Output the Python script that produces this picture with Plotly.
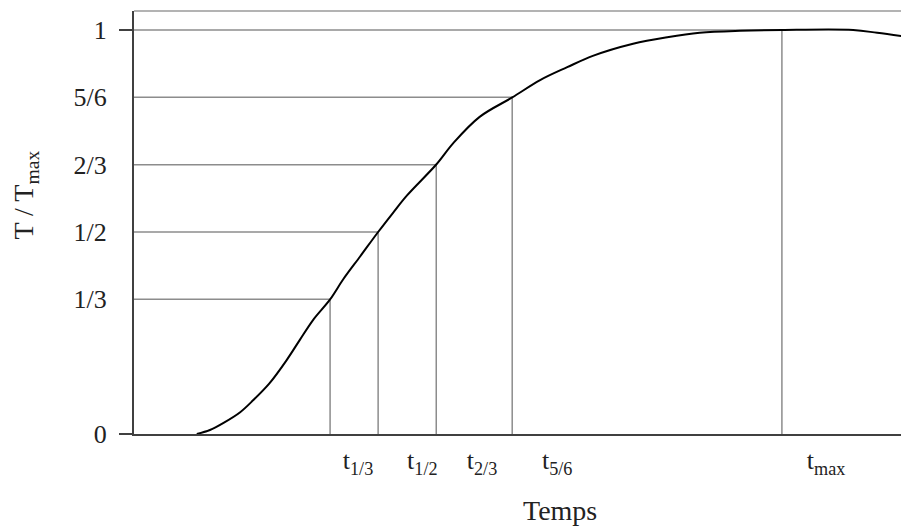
import plotly.graph_objects as go

# courbe T/Tmax en fonction du temps (unites arbitraires 0-100)
temps = [8.1, 9.8, 11.5, 13.7, 15.4, 17.5, 19.7, 21.4, 23.1, 25.3, 27.0, 29.2,
         31.5, 33.4, 35.2, 39.0, 41.2, 44.6, 48.8, 52.4, 55.9, 59.2, 64.4,
         68.8, 73.0, 78.2, 83.6, 92.8, 95.9, 99.7]
t_rel = [0.0, 0.01, 0.027, 0.054, 0.084, 0.126, 0.183, 0.233, 0.282, 0.333,
         0.383, 0.44, 0.5, 0.547, 0.59, 0.667, 0.72, 0.785, 0.833, 0.876,
         0.908, 0.936, 0.966, 0.982, 0.993, 0.998, 1.0, 1.0, 0.993, 0.983]

# niveaux et temps correspondants
niveaux = [1 / 3, 1 / 2, 2 / 3, 5 / 6, 1]
t_niveaux = [25.3, 31.5, 39.0, 48.8, 83.6]

y_ticks = [0, 1 / 3, 1 / 2, 2 / 3, 5 / 6, 1]
y_labels = ["0", "1/3", "1/2", "2/3", "5/6", "1"]

x_label_pos = [28.9, 37.2, 44.9, 54.6, 89.3]
x_labels = ["t<sub>1/3</sub>", "t<sub>1/2</sub>", "t<sub>2/3</sub>",
            "t<sub>5/6</sub>", "t<sub>max</sub>"]

FONT = "Liberation Serif, Times New Roman, serif"
AXE = "#404040"
GUIDE = "#8c8c8c"

# lignes de repere horizontales + verticales
gx, gy = [], []
for n, t in zip(niveaux, t_niveaux):
    gx += [0, t, None, t, t, None]
    gy += [n, n, None, 0, n, None]

fig = go.Figure()
fig.add_trace(go.Scatter(x=gx, y=gy, mode="lines",
                         line=dict(color=GUIDE, width=1.5),
                         hoverinfo="skip", showlegend=False))
fig.add_trace(go.Scatter(x=temps, y=t_rel, mode="lines",
                         line=dict(color="black", width=2, shape="spline", smoothing=1.0),
                         showlegend=False))
# trace invisible pour l'axe des petites graduations
fig.add_trace(go.Scatter(x=[0], y=[0], yaxis="y2", mode="markers",
                         marker=dict(opacity=0), hoverinfo="skip", showlegend=False))

fig.update_layout(
    width=901, height=521,
    margin=dict(l=126, r=0, t=3, b=95),
    plot_bgcolor="white", paper_bgcolor="white",
    font=dict(family=FONT, size=26, color="#222"),
    xaxis=dict(range=[0, 100], showgrid=False, zeroline=False,
               showline=True, linecolor=AXE, linewidth=2,
               tickvals=x_label_pos, ticktext=x_labels, ticks="",
               ticklabelstandoff=2, tickfont=dict(size=26)),
    yaxis=dict(range=[0, 1.047], showgrid=False, zeroline=False,
               showline=True, linecolor=AXE, linewidth=2,
               tickvals=y_ticks, ticktext=y_labels, ticks="",
               ticklabelstandoff=20, tickfont=dict(size=26)),
    yaxis2=dict(range=[0, 1.047], overlaying="y", side="left",
                tickvals=[0, 1], ticks="outside", ticklen=14, tickwidth=2,
                tickcolor=AXE, showticklabels=False, showgrid=False,
                zeroline=False, showline=False),
    shapes=[dict(type="line", xref="x domain", yref="y domain",
                 x0=0, x1=1, y0=1, y1=1, line=dict(color="#9a9a9a", width=1.5))],
    annotations=[
        dict(text="Temps", xref="paper", yref="paper", x=0.55, y=-0.18,
             xanchor="center", yanchor="middle", showarrow=False,
             font=dict(size=28)),
        dict(text="T / T<sub>max</sub>", xref="paper", yref="paper",
             x=-0.14, y=0.565, xanchor="center", yanchor="middle",
             textangle=-90, showarrow=False, font=dict(size=28)),
    ],
)

fig.write_html("out.html")
